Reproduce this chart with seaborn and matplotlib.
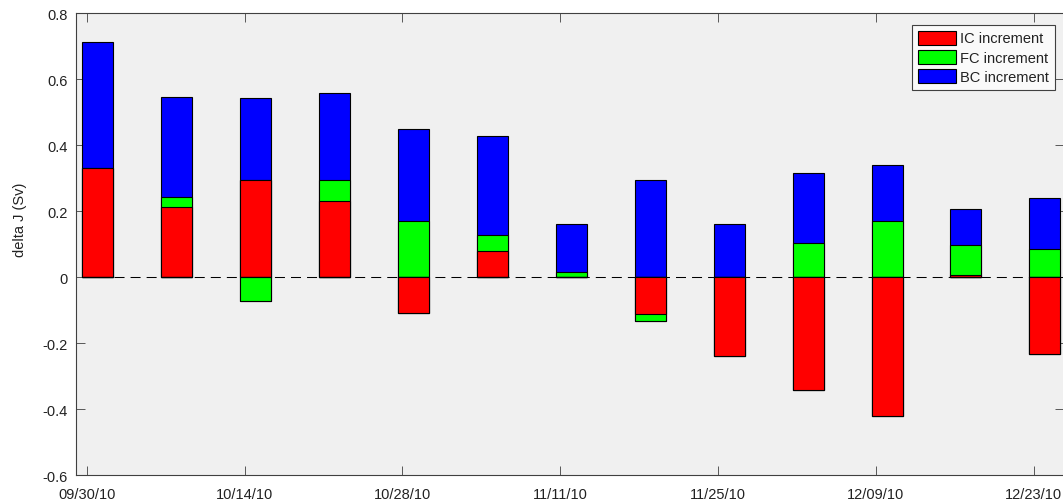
import numpy as np
import pandas as pd
import matplotlib
matplotlib.use("Agg")
import matplotlib.pyplot as plt
import matplotlib.dates as mdates
from matplotlib.patches import Patch
import seaborn as sns

# Weekly analysis dates and the three increments of delta J (Sv)
analysis_dates = ["2010-10-01", "2010-10-08", "2010-10-15", "2010-10-22",
                  "2010-10-29", "2010-11-05", "2010-11-12", "2010-11-19",
                  "2010-11-26", "2010-12-03", "2010-12-10", "2010-12-17",
                  "2010-12-24"]
ic_increment = [0.331, 0.212, 0.295, 0.230, -0.108, 0.079, 0.000, -0.111,
                -0.238, -0.343, -0.420, 0.007, -0.232]
fc_increment = [0.000, 0.030, -0.074, 0.065, 0.169, 0.048, 0.015, -0.023,
                0.000, 0.102, 0.170, 0.091, 0.086]
bc_increment = [0.382, 0.302, 0.246, 0.264, 0.280, 0.300, 0.147, 0.293,
                0.161, 0.214, 0.170, 0.109, 0.153]
series_names = ["IC increment", "FC increment", "BC increment"]
series_colors = ["#ff0000", "#00ff00", "#0000ff"]
tick_dates = ["2010-09-30", "2010-10-14", "2010-10-28", "2010-11-11",
              "2010-11-25", "2010-12-09", "2010-12-23"]
y_ticks = [-0.6, -0.4, -0.2, 0.0, 0.2, 0.4, 0.6, 0.8]

sns.set_theme(style="ticks")
plt.rcParams["font.family"] = ["Liberation Sans", "DejaVu Sans"]
plt.rcParams["axes.unicode_minus"] = False

df = pd.DataFrame({"date": pd.to_datetime(analysis_dates)})
df["x"] = mdates.date2num(df["date"])

# MATLAB-style stacking: positive and negative parts stack separately
comps = np.vstack([ic_increment, fc_increment, bc_increment])
pos_levels = np.clip(comps, 0, None).cumsum(axis=0)
neg_levels = np.clip(comps, None, 0).cumsum(axis=0)

W, H = 1063, 502
fig = plt.figure(figsize=(W / 100, H / 100), dpi=100)
fig.patch.set_facecolor("white")
ax = fig.add_axes([76 / W, 26 / H, 988 / W, 462 / H])
ax.set_facecolor("#f0f0f0")

x_left = mdates.date2num(pd.Timestamp("2010-09-30")) - 0.95
x_right = mdates.date2num(pd.Timestamp("2010-12-23")) + 2.7

# zero reference line
ax.hlines(0, df["x"].iloc[0], x_right, colors="black", linewidth=0.75,
          linestyles=[(0, (9.6, 5.8))], zorder=1)

# draw outermost cumulative level first so inner segments sit on top
for levels in (pos_levels, neg_levels):
    for k in (2, 1, 0):
        sns.barplot(x=df["x"], y=levels[k], native_scale=True, orient="x",
                    width=0.393, color=series_colors[k], saturation=1,
                    edgecolor="black", linewidth=0.8, errorbar=None,
                    ax=ax, zorder=2)

ax.set_xlim(x_left, x_right)
ax.set_ylim(-0.6, 0.8)
ax.set_xticks(mdates.date2num(pd.to_datetime(tick_dates)))
ax.xaxis.set_major_formatter(mdates.DateFormatter("%m/%d/%y"))
ax.set_yticks(y_ticks)
ax.set_yticklabels([f"{v:g}" for v in y_ticks])
ax.minorticks_off()

ax.set_xlabel("")
ax.set_ylabel("delta J (Sv)", fontsize=10.5, color="#222222")
ax.yaxis.set_label_coords(-0.05, 0.555)

for s in ax.spines.values():
    s.set_visible(True)
    s.set_color("#404040")
    s.set_linewidth(0.8)

ax.tick_params(direction="in", length=6.5, width=0.6, color="#404040",
               labelsize=10.5, labelcolor="#222222", top=True, right=True)
ax.tick_params(axis="x", pad=8.3)
ax.tick_params(axis="y", pad=5.8)

handles = [Patch(facecolor=c, edgecolor="black", linewidth=0.8)
           for c in series_colors]
leg = ax.legend(handles, series_names, loc="upper right",
                bbox_to_anchor=(1055 / W, 1 - 25.7 / H),
                bbox_transform=fig.transFigure, borderaxespad=0,
                fontsize=10.5, handlelength=2.6, handleheight=1.1,
                handletextpad=0.3, labelspacing=0.3, borderpad=0.4,
                fancybox=False, framealpha=1, facecolor="#fafafa",
                edgecolor="#404040")
leg.get_frame().set_linewidth(0.8)
for t in leg.get_texts():
    t.set_color("#222222")

fig.savefig("out.png", dpi=100, facecolor="white")
